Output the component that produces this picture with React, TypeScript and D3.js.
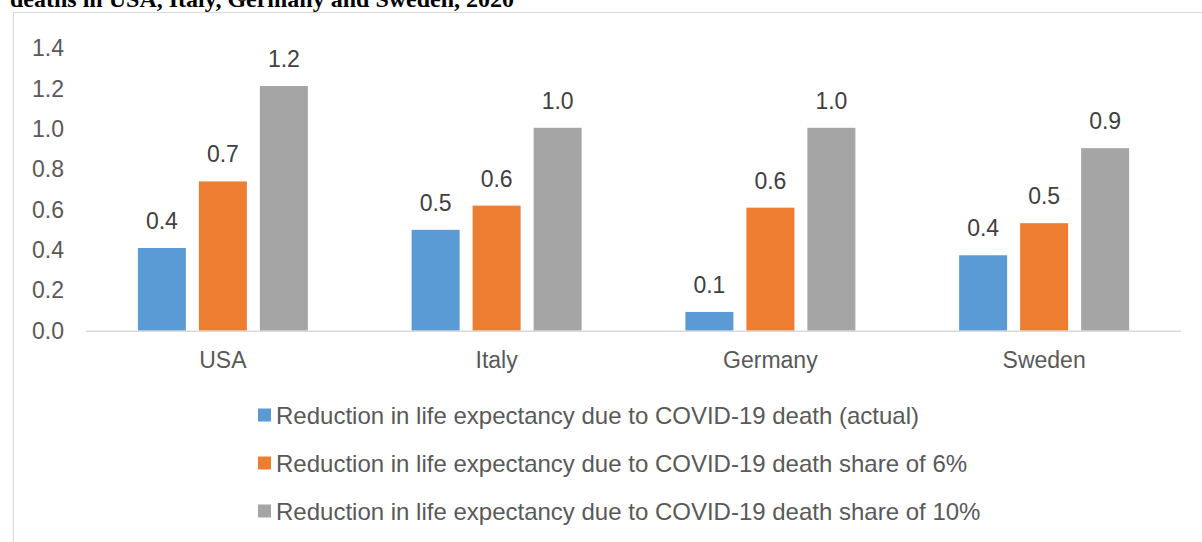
import { useEffect, useRef } from "react";
import * as d3 from "d3";

const countries = ["USA", "Italy", "Germany", "Sweden"];
const seriesNames = [
  "Reduction in life expectancy due to COVID-19 death (actual)",
  "Reduction in life expectancy due to COVID-19 death share of 6%",
  "Reduction in life expectancy due to COVID-19 death share of 10%",
];
const actual = [0.41, 0.5, 0.093, 0.374];
const share6 = [0.74, 0.62, 0.61, 0.533];
const share10 = [1.213, 1.006, 1.006, 0.905];
const yTicks = [0, 0.2, 0.4, 0.6, 0.8, 1.0, 1.2, 1.4];
const colors = ["#5b9bd5", "#ed7d31", "#a5a5a5"];

const W = 1202;
const H = 542;

const App = () => {
  const svgRef = useRef<SVGSVGElement>(null);

  useEffect(() => {
    if (!svgRef.current) return;
    const svg = d3.select(svgRef.current);
    svg.selectAll("*").remove();

    const font = "Liberation Sans, Arial, sans-serif";
    const series = [actual, share6, share10];

    // chart frame (only top and left visible in the crop)
    svg.append("path")
      .attr("d", `M13.5,${H} V12.5 H${W}`)
      .attr("fill", "none")
      .attr("stroke", "#d9d9d9")
      .attr("stroke-width", 1.2);

    // clipped title
    svg.append("text")
      .attr("x", 10)
      .attr("y", 6.5)
      .attr("font-family", "Liberation Serif, Times New Roman, serif")
      .attr("font-weight", 700)
      .attr("font-size", 24)
      .attr("fill", "#000")
      .text("deaths in USA, Italy, Germany and Sweden, 2020");

    const x = d3.scaleBand<string>().domain(countries).range([86, 1181]);
    const y = d3.scaleLinear().domain([0, 1.4]).range([330.7, 48.3]);

    const barW = 48;
    const gap = 13;
    const groupW = 3 * barW + 2 * gap;

    // y tick labels
    svg.append("g")
      .selectAll("text")
      .data(yTicks)
      .enter()
      .append("text")
      .attr("x", 64)
      .attr("y", (d) => y(d) + 8)
      .attr("text-anchor", "end")
      .attr("font-family", font)
      .attr("font-size", 23)
      .attr("fill", "#595959")
      .text((d) => d3.format(".1f")(d));

    // bars and labels
    series.forEach((vals, si) => {
      const g = svg.append("g");
      const offset = (i: number) => x(countries[i])! + x.bandwidth() / 2 - groupW / 2 + si * (barW + gap);
      g.selectAll("rect")
        .data(vals)
        .enter()
        .append("rect")
        .attr("x", (_, i) => offset(i))
        .attr("y", (d) => y(d))
        .attr("width", barW)
        .attr("height", (d) => y(0) - y(d))
        .attr("fill", colors[si]);
      g.selectAll("text")
        .data(vals)
        .enter()
        .append("text")
        .attr("x", (_, i) => offset(i) + barW / 2)
        .attr("y", (d) => y(d) - 19)
        .attr("text-anchor", "middle")
        .attr("font-family", font)
        .attr("font-size", 23)
        .attr("fill", "#404040")
        .text((d) => d3.format(".1f")(d));
    });

    // x axis line
    svg.append("line")
      .attr("x1", 86)
      .attr("x2", 1181)
      .attr("y1", y(0) + 0.5)
      .attr("y2", y(0) + 0.5)
      .attr("stroke", "#d9d9d9")
      .attr("stroke-width", 1.5);

    // category labels
    svg.append("g")
      .selectAll("text")
      .data(countries)
      .enter()
      .append("text")
      .attr("x", (d) => x(d)! + x.bandwidth() / 2)
      .attr("y", 368)
      .attr("text-anchor", "middle")
      .attr("font-family", font)
      .attr("font-size", 23)
      .attr("fill", "#595959")
      .text((d) => d);

    // legend
    const legendY = [415, 463, 511];
    const lg = svg.append("g");
    seriesNames.forEach((name, i) => {
      lg.append("rect")
        .attr("x", 258)
        .attr("y", legendY[i] - 6.5)
        .attr("width", 13)
        .attr("height", 13)
        .attr("fill", colors[i]);
      lg.append("text")
        .attr("x", 276)
        .attr("y", legendY[i] + 8.5)
        .attr("font-family", font)
        .attr("font-size", 24)
        .attr("fill", "#595959")
        .text(name);
    });
  }, []);

  return (
    <svg
      ref={svgRef}
      width={W}
      height={H}
      style={{ position: "absolute", left: 0, top: 0, background: "#fff" }}
    />
  );
};

export default App;
